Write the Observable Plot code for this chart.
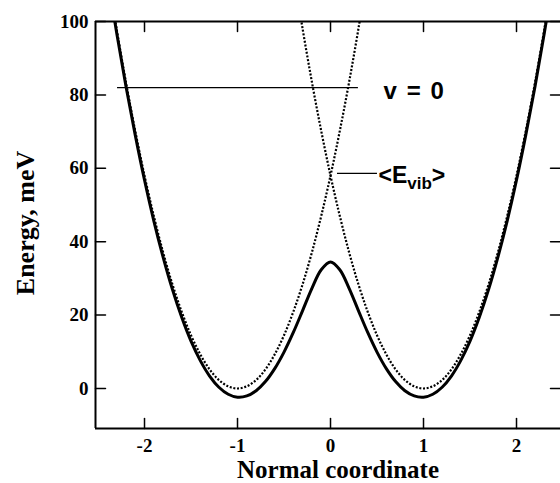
<!DOCTYPE html>
<html>
<head>
<meta charset="utf-8">
<script src="https://cdn.jsdelivr.net/npm/d3@7"></script>
<script src="https://cdn.jsdelivr.net/npm/@observablehq/plot@0.6"></script>
<style>
  html, body { margin: 0; padding: 0; background: #fff; }
  #chart svg text { font-weight: bold; }
</style>
</head>
<body>
<div id="chart"></div>
<script>
// ---- data ----
const xTicks = [-2, -1, 0, 1, 2];
const yTicks = [0, 20, 40, 60, 80, 100];
const xDomain = [-2.527, 2.473];
const yDomain = [-10.9, 100];

// diabatic (dotted) curve centred at -1
const dotLeftX = [-2.4,-2.3,-2.2,-2.1,-2.0,-1.9,-1.8,-1.7,-1.6,-1.5,-1.4,-1.3,-1.2,-1.1,-1.0,-0.9,-0.8,-0.7,-0.6,-0.5,-0.4,-0.3,-0.2,-0.1,0.0,0.1,0.2,0.3,0.4];
const dotLeftE = [113.7,98.0,83.5,70.2,58.0,47.0,37.1,28.4,20.9,14.5,9.3,5.2,2.3,0.6,0,0.6,2.3,5.2,9.3,14.5,20.9,28.4,37.1,47.0,58.0,70.2,83.5,98.0,113.7];
// diabatic (dotted) curve centred at +1
const dotRightX = [-0.4,-0.3,-0.2,-0.1,0.0,0.1,0.2,0.3,0.4,0.5,0.6,0.7,0.8,0.9,1.0,1.1,1.2,1.3,1.4,1.5,1.6,1.7,1.8,1.9,2.0,2.1,2.2,2.3,2.4];
const dotRightE = [113.7,98.0,83.5,70.2,58.0,47.0,37.1,28.4,20.9,14.5,9.3,5.2,2.3,0.6,0,0.6,2.3,5.2,9.3,14.5,20.9,28.4,37.1,47.0,58.0,70.2,83.5,98.0,113.7];
// adiabatic double-well (solid)
const solidX = [-2.4,-2.3,-2.2,-2.1,-2.0,-1.9,-1.8,-1.7,-1.6,-1.5,-1.4,-1.3,-1.2,-1.1,-1.0,-0.9,-0.8,-0.7,-0.6,-0.5,-0.4,-0.3,-0.2,-0.1,0.0,0.1,0.2,0.3,0.4,0.5,0.6,0.7,0.8,0.9,1.0,1.1,1.2,1.3,1.4,1.5,1.6,1.7,1.8,1.9,2.0,2.1,2.2,2.3,2.4];
const solidE = [112.7,97.0,82.4,69.1,56.8,45.7,35.8,27.0,19.4,12.9,7.6,3.4,0.35,-1.57,-2.36,-2.03,-0.61,1.89,5.42,9.92,15.27,21.23,27.30,32.37,34.5,32.37,27.30,21.23,15.27,9.92,5.42,1.89,-0.61,-2.03,-2.36,-1.57,0.35,3.4,7.6,12.9,19.4,27.0,35.8,45.7,56.8,69.1,82.4,97.0,112.7];

// annotations
const levelLines = [{y: 82, x1: -2.29, x2: 0.30}, {y: 58.6, x1: 0.075, x2: 0.505}];
const labels = [{x: 0.57, y: 81.1, text: "v = 0"}, {x: 0.516, y: 57.9, text: "<Evib>"}];
const xLabel = "Normal coordinate";
const yLabel = "Energy, meV";

// ---- build ----
const dotLeft = dotLeftX.map((x, i) => ({x, e: dotLeftE[i]}));
const dotRight = dotRightX.map((x, i) => ({x, e: dotRightE[i]}));
const solid = solidX.map((x, i) => ({x, e: solidE[i]}));

const tickShape = {draw(c, l) { c.moveTo(0, 0); c.lineTo(0, -l); }};
const tickLen = 10;
const serif = "'Liberation Serif', 'Times New Roman', serif";
const sans = "'Liberation Sans', Arial, Helvetica, sans-serif";
const dotted = {stroke: "black", strokeWidth: 2.2, strokeDasharray: "2,1.7", strokeLinecap: "butt", curve: "catmull-rom", clip: true};

const chart = Plot.plot({
  width: 560,
  height: 483,
  marginLeft: 95,
  marginRight: 0,
  marginTop: 21,
  marginBottom: 55,
  style: {background: "white", color: "black", fontFamily: serif, fontSize: "19px", fontWeight: "bold"},
  x: {domain: xDomain},
  y: {domain: yDomain},
  marks: [
    // curves
    Plot.line(dotLeft, {x: "x", y: "e", ...dotted}),
    Plot.line(dotRight, {x: "x", y: "e", ...dotted}),
    Plot.line(solid, {x: "x", y: "e", curve: "catmull-rom", stroke: "black", strokeWidth: 3, clip: true}),
    // level lines
    Plot.ruleY(levelLines, {y: "y", x1: "x1", x2: "x2", stroke: "black", strokeWidth: 1.2}),
    // frame
    Plot.ruleX([xDomain[0]], {stroke: "black", strokeWidth: 2}),
    Plot.ruleY([yDomain[0]], {stroke: "black", strokeWidth: 2}),
    Plot.ruleY([yDomain[1]], {stroke: "black", strokeWidth: 2}),
    // inward ticks
    Plot.vector(xTicks, {x: d => d, y: () => yDomain[0], length: tickLen, rotate: 0, anchor: "start", shape: tickShape, stroke: "black", strokeWidth: 1.5}),
    Plot.vector(xTicks, {x: d => d, y: () => yDomain[1], length: tickLen, rotate: 180, anchor: "start", shape: tickShape, stroke: "black", strokeWidth: 1.5}),
    Plot.vector(yTicks, {y: d => d, x: () => xDomain[0], length: tickLen, rotate: 90, anchor: "start", shape: tickShape, stroke: "black", strokeWidth: 1.5}),
    Plot.vector(yTicks, {y: d => d, x: () => xDomain[1], length: tickLen, rotate: -90, anchor: "start", shape: tickShape, stroke: "black", strokeWidth: 1.5}),
    // tick labels
    Plot.axisX(xTicks, {tickSize: 0, tickPadding: 10, tickFormat: d => String(d), label: null, fontFamily: serif, fontSize: 19, fontWeight: "bold"}),
    Plot.axisY(yTicks, {tickSize: 0, tickPadding: 7, tickFormat: d => String(d), label: null, fontFamily: serif, fontSize: 19, fontWeight: "bold"}),
    // axis titles
    Plot.text([xLabel], {text: d => d, frameAnchor: "bottom", textAnchor: "middle", lineAnchor: "bottom", dx: 10, dy: 49, fontFamily: serif, fontSize: 25, fontWeight: "bold"}),
    Plot.text([yLabel], {text: d => d, frameAnchor: "left", textAnchor: "middle", rotate: -90, lineAnchor: "bottom", dx: -62, dy: -2, fontFamily: serif, fontSize: 26, fontWeight: "bold"}),
    // annotation labels
    Plot.text(labels, {x: "x", y: "y", text: "text", textAnchor: "start", lineAnchor: "middle", fontFamily: sans, fontSize: 23, fontWeight: "bold"})
  ]
});

// styling of the annotation labels: subscript for <E_vib>, spacing for v = 0
const NS = "http://www.w3.org/2000/svg";
chart.querySelectorAll("text").forEach(t => {
  if (t.textContent === "<Evib>") {
    t.textContent = "";
    t.appendChild(document.createTextNode("<E"));
    const sub = document.createElementNS(NS, "tspan");
    sub.setAttribute("dy", "6");
    sub.setAttribute("font-size", "17");
    sub.textContent = "vib";
    t.appendChild(sub);
    const gt = document.createElementNS(NS, "tspan");
    gt.setAttribute("dy", "-6");
    gt.textContent = ">";
    t.appendChild(gt);
  } else if (t.textContent === "v = 0") {
    t.setAttribute("font-size", "24");
    t.style.letterSpacing = "1.6px";
  }
});

document.getElementById("chart").appendChild(chart);
</script>
</body>
</html>
